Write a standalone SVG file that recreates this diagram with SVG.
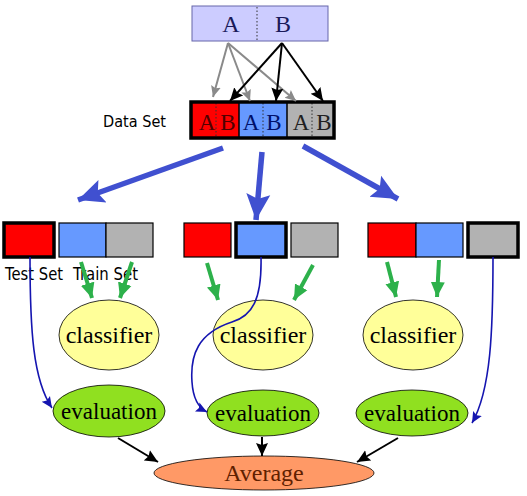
<svg xmlns="http://www.w3.org/2000/svg" width="527" height="496" viewBox="0 0 527 496">
<style>
.serif{font-family:"Liberation Serif","DejaVu Serif",serif}
.sans{font-family:"DejaVu Sans","Liberation Sans",sans-serif}
.thin{stroke:#000;stroke-width:1.2}
.thick{stroke:#000;stroke-width:3.5}
.red{fill:#ff0000}.blue{fill:#6699ff}.gray{fill:#b2b2b2}
.dot{stroke:#333;stroke-width:1;stroke-dasharray:1.5,2}
.big{stroke:#4050d0;stroke-width:5.5;fill:none}
.grn{stroke:#2db14b;stroke-width:4;fill:none}
.bl{stroke:#000;stroke-width:2;fill:none}
.cur{stroke:#1515b0;stroke-width:1.6;fill:none}
</style>
<defs>
<marker id="mBig" markerUnits="userSpaceOnUse" markerWidth="28" markerHeight="28" refX="26" refY="14" orient="auto" viewBox="0 0 28 28"><path d="M0,2 L26,14 L0,26 L5,14 Z" fill="#4050d0"/></marker>
<marker id="mGrn" markerUnits="userSpaceOnUse" markerWidth="16" markerHeight="16" refX="15" refY="8" orient="auto" viewBox="0 0 16 16"><path d="M0,1 L15,8 L0,15 Z" fill="#2db14b"/></marker>
<marker id="mGray" markerUnits="userSpaceOnUse" markerWidth="12" markerHeight="12" refX="11" refY="6" orient="auto" viewBox="0 0 12 12"><path d="M0,1 L11,6 L0,11 L2,6 Z" fill="#8a8a8a"/></marker>
<marker id="mBlk" markerUnits="userSpaceOnUse" markerWidth="14" markerHeight="14" refX="13" refY="7" orient="auto" viewBox="0 0 14 14"><path d="M0,1 L13,7 L0,13 L2,7 Z" fill="#000"/></marker>
<marker id="mCur" markerUnits="userSpaceOnUse" markerWidth="12" markerHeight="12" refX="11" refY="6" orient="auto" viewBox="0 0 12 12"><path d="M0,1 L11,6 L0,11 L2,6 Z" fill="#1515b0"/></marker>
</defs>
<rect width="527" height="496" fill="#fff"/>

<g id="source">
<rect x="192" y="6" width="136" height="35" fill="#ccccff" stroke="#6666aa" stroke-width="1"/>
<line x1="257" y1="7" x2="257" y2="40" class="dot" stroke="#3333aa"/>
<text x="231" y="32" class="serif" font-size="24" fill="#1a1a5a" text-anchor="middle">A</text>
<text x="283" y="32" class="serif" font-size="24" fill="#1a1a5a" text-anchor="middle">B</text>
</g>

<g id="dataset">
<text x="103" y="127" class="sans" font-size="16.5" fill="#000" textLength="63" lengthAdjust="spacingAndGlyphs">Data Set</text>
<rect x="191" y="102" width="48" height="36" class="red"/>
<rect x="239" y="102" width="48" height="36" class="blue"/>
<rect x="287" y="102" width="47" height="36" class="gray"/>
<line x1="239" y1="102" x2="239" y2="138" stroke="#000" stroke-width="1.5"/>
<line x1="287" y1="102" x2="287" y2="138" stroke="#000" stroke-width="1.5"/>
<line x1="216" y1="103" x2="216" y2="137" class="dot"/>
<line x1="263" y1="103" x2="263" y2="137" class="dot" stroke="#2233aa"/>
<line x1="312" y1="103" x2="312" y2="137" class="dot"/>
<rect x="191" y="102" width="143" height="36" fill="none" class="thick"/>
<text x="207" y="130" class="serif" font-size="23" fill="#500000" text-anchor="middle">A</text>
<text x="228" y="130" class="serif" font-size="23" fill="#500000" text-anchor="middle">B</text>
<text x="251" y="130" class="serif" font-size="23" fill="#00106a" text-anchor="middle">A</text>
<text x="274" y="130" class="serif" font-size="23" fill="#00106a" text-anchor="middle">B</text>
<text x="301" y="130" class="serif" font-size="23" fill="#202020" text-anchor="middle">A</text>
<text x="324" y="130" class="serif" font-size="23" fill="#202020" text-anchor="middle">B</text>
</g>

<g id="fold1">
<rect x="59" y="223" width="47" height="34" class="blue thin"/>
<rect x="106" y="223" width="47" height="34" class="gray thin"/>
<rect x="4" y="223" width="50" height="34" class="red thick"/>
<text x="5" y="280" class="sans" font-size="17.5" fill="#000" textLength="58" lengthAdjust="spacingAndGlyphs">Test Set</text>
<text x="73" y="280" class="sans" font-size="17.5" fill="#000" textLength="65" lengthAdjust="spacingAndGlyphs">Train Set</text>
</g>
<g id="fold2">
<rect x="184" y="223" width="47" height="34" class="red thin"/>
<rect x="291" y="223" width="47" height="34" class="gray thin"/>
<rect x="236" y="223" width="50" height="34" class="blue thick"/>
</g>
<g id="fold3">
<rect x="368" y="223" width="48" height="34" class="red thin"/>
<rect x="416" y="223" width="47" height="34" class="blue thin"/>
<rect x="468" y="223" width="50" height="34" class="gray thick"/>
</g>

<g id="classifier1"><ellipse cx="109" cy="335" rx="50" ry="35" fill="#ffff99" stroke="#000" stroke-width="0.8"/><text x="109" y="343" class="serif" font-size="24" text-anchor="middle">classifier</text></g>
<g id="classifier2"><ellipse cx="263" cy="335" rx="50" ry="35" fill="#ffff99" stroke="#000" stroke-width="0.8"/><text x="263" y="343" class="serif" font-size="24" text-anchor="middle">classifier</text></g>
<g id="classifier3"><ellipse cx="413" cy="335" rx="50" ry="35" fill="#ffff99" stroke="#000" stroke-width="0.8"/><text x="413" y="343" class="serif" font-size="24" text-anchor="middle">classifier</text></g>

<g id="evaluation1"><ellipse cx="109" cy="411" rx="56" ry="26" fill="#90e020" stroke="#000" stroke-width="0.8"/><text x="109" y="419" class="serif" font-size="23" text-anchor="middle">evaluation</text></g>
<g id="evaluation2"><ellipse cx="263" cy="413" rx="56" ry="23" fill="#90e020" stroke="#000" stroke-width="0.8"/><text x="263" y="421" class="serif" font-size="23" text-anchor="middle">evaluation</text></g>
<g id="evaluation3"><ellipse cx="412" cy="413" rx="56" ry="23" fill="#90e020" stroke="#000" stroke-width="0.8"/><text x="412" y="421" class="serif" font-size="23" text-anchor="middle">evaluation</text></g>

<g id="average"><ellipse cx="264" cy="473" rx="110" ry="17" fill="#ff9966" stroke="#000" stroke-width="0.8"/><text x="264" y="481" class="serif" font-size="24" fill="#602000" text-anchor="middle">Average</text></g>

<g id="connectors">
<line x1="228" y1="43" x2="213" y2="97" stroke="#8a8a8a" stroke-width="2" marker-end="url(#mGray)"/>
<line x1="228" y1="43" x2="250" y2="101" stroke="#8a8a8a" stroke-width="2" marker-end="url(#mGray)"/>
<line x1="228" y1="43" x2="296" y2="101" stroke="#8a8a8a" stroke-width="2" marker-end="url(#mGray)"/>
<line x1="282" y1="43" x2="230" y2="101" class="bl" marker-end="url(#mBlk)"/>
<line x1="282" y1="43" x2="276" y2="101" class="bl" marker-end="url(#mBlk)"/>
<line x1="282" y1="43" x2="323" y2="101" class="bl" marker-end="url(#mBlk)"/>

<line x1="223" y1="148" x2="78" y2="200" class="big" marker-end="url(#mBig)"/>
<line x1="262" y1="152" x2="256" y2="220" class="big" marker-end="url(#mBig)"/>
<line x1="303" y1="146" x2="398" y2="199" class="big" marker-end="url(#mBig)"/>

<line x1="81" y1="262" x2="92" y2="298" class="grn" marker-end="url(#mGrn)"/>
<line x1="132" y1="262" x2="120" y2="298" class="grn" marker-end="url(#mGrn)"/>
<line x1="207" y1="263" x2="218" y2="300" class="grn" marker-end="url(#mGrn)"/>
<line x1="313" y1="265" x2="294" y2="300" class="grn" marker-end="url(#mGrn)"/>
<line x1="387" y1="262" x2="396" y2="297" class="grn" marker-end="url(#mGrn)"/>
<line x1="439" y1="260" x2="437" y2="297" class="grn" marker-end="url(#mGrn)"/>

<path d="M30,257 C30,330 33,380 52,408" class="cur" marker-end="url(#mCur)"/>
<path d="M261,257 C262,300 252,316 232,322 C198,333 190,355 192,382 C193,398 199,408 207,412" class="cur" marker-end="url(#mCur)"/>
<path d="M493,257 C493,330 491,390 472,423" class="cur" marker-end="url(#mCur)"/>

<line x1="118" y1="438" x2="158" y2="462" class="bl" marker-end="url(#mBlk)"/>
<line x1="262" y1="437" x2="262" y2="456" class="bl" marker-end="url(#mBlk)"/>
<line x1="398" y1="438" x2="357" y2="462" class="bl" marker-end="url(#mBlk)"/>
</g>
</svg>
